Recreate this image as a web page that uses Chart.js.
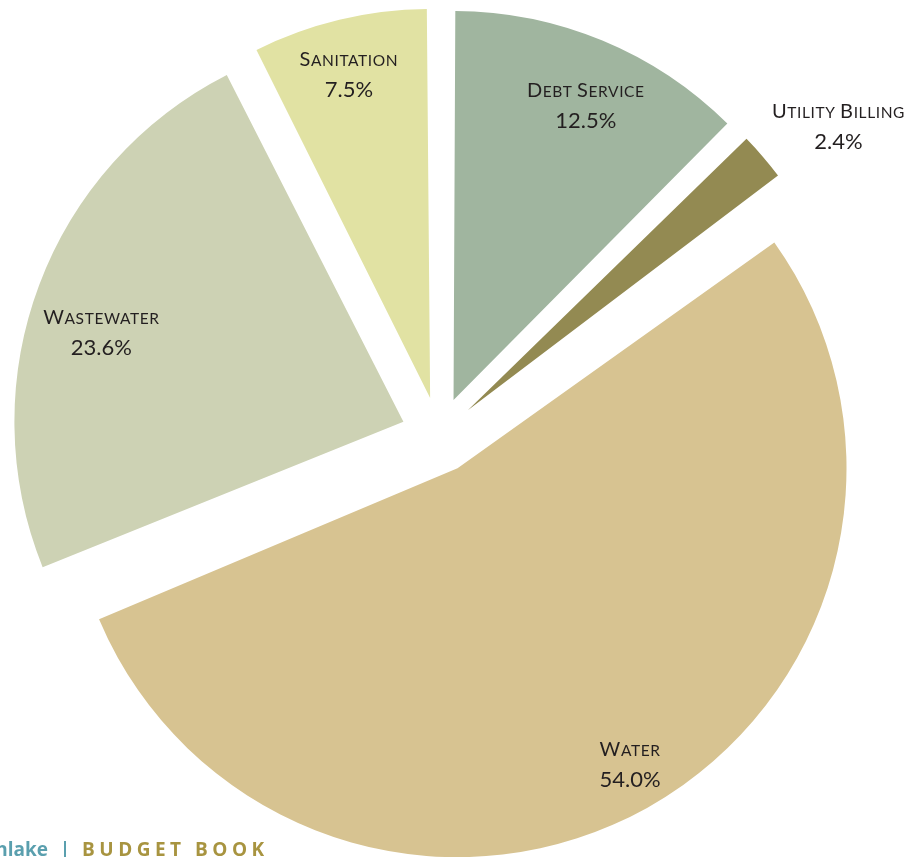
<!DOCTYPE html>
<html>
<head>
<meta charset="utf-8">
<script src="https://cdn.jsdelivr.net/npm/chart.js@4/dist/chart.umd.min.js"></script>
<style>
  html, body { margin: 0; padding: 0; background: #fff; }
  #wrap { width: 909px; height: 857px; }
</style>
</head>
<body>
<div id="wrap"><canvas id="budgetPie" width="909" height="857"></canvas></div>
<script>
var categories = ['Debt Service', 'Utility Billing', 'Water', 'Wastewater', 'Sanitation'];
var shares = [12.5, 2.4, 54.0, 23.6, 7.5];
var shareLabels = ['12.5%', '2.4%', '54.0%', '23.6%', '7.5%'];

var sliceColors = ['#a0b59f', '#938a52', '#d7c391', '#cdd2b4', '#e1e2a3'];
var PIE_RADIUS = 389;
var GAP = 38; // how far every slice is pulled out from the centre
// label placement: fraction of radius along the slice middle, plus a small nudge in degrees
var labelRadius = [0.83, 1.2, 0.88, 0.81, 0.86];
var labelNudge = [1.5, 3, -1, -3.5, -0.5];

function drawSmallCaps(ctx, text, cx, y, big, small) {
    var pieces = [];
    text.split(' ').forEach(function (w, i) {
        if (i > 0) pieces.push({ t: ' ', s: small });
        pieces.push({ t: w.charAt(0).toUpperCase(), s: big });
        if (w.length > 1) pieces.push({ t: w.slice(1).toUpperCase(), s: small });
    });
    ctx.letterSpacing = '0.6px';
    var total = 0;
    pieces.forEach(function (p) {
        ctx.font = p.s + 'px Lato';
        p.w = ctx.measureText(p.t).width;
        total += p.w;
    });
    var x = cx - total / 2;
    ctx.textAlign = 'left';
    pieces.forEach(function (p) {
        ctx.font = p.s + 'px Lato';
        ctx.fillText(p.t, x, y);
        x += p.w;
    });
    ctx.letterSpacing = '0px';
}

var sliceLabels = {
    id: 'sliceLabels',
    beforeDatasetsDraw: function (chart) {
        // Chart.js grows small slices by part of their offset; undo that so all radii match
        chart.getDatasetMeta(0).data.forEach(function (arc) {
            var circ = Math.min(Math.PI, arc.endAngle - arc.startAngle);
            arc.outerRadius = PIE_RADIUS - GAP * (1 - Math.sin(circ));
        });
    },
    afterDatasetsDraw: function (chart) {
        var ctx = chart.ctx;
        var meta = chart.getDatasetMeta(0);
        ctx.save();
        ctx.fillStyle = '#231f20';
        ctx.textBaseline = 'alphabetic';
        meta.data.forEach(function (arc, i) {
            var mid = (arc.startAngle + arc.endAngle) / 2 + labelNudge[i] * Math.PI / 180;
            var dist = GAP + labelRadius[i] * PIE_RADIUS;
            var lx = arc.x + Math.cos(mid) * dist;
            var ly = arc.y + Math.sin(mid) * dist;
            drawSmallCaps(ctx, categories[i], lx, ly - 8, 20, 15.5);
            ctx.font = '22px Lato';
            ctx.textAlign = 'center';
            ctx.fillText(shareLabels[i], lx, ly + 23);
        });
        ctx.restore();
    },
    afterDraw: function (chart) {
        // page footer
        var ctx = chart.ctx;
        ctx.save();
        ctx.textBaseline = 'alphabetic';
        ctx.font = 'bold 19px "Open Sans"';
        ctx.fillStyle = '#5a9fae';
        ctx.textAlign = 'right';
        ctx.fillText('Southlake', 48, 856);
        ctx.textAlign = 'center';
        ctx.fillText('|', 65, 856);
        ctx.textAlign = 'left';
        ctx.fillStyle = '#a89440';
        ctx.letterSpacing = '4.5px';
        ctx.fillText('BUDGET BOOK', 82, 856);
        ctx.restore();
    }
};

new Chart(document.getElementById('budgetPie').getContext('2d'), {
    type: 'pie',
    data: {
        labels: categories,
        datasets: [{
            data: shares,
            backgroundColor: sliceColors,
            borderWidth: 0,
            offset: GAP * 4, // v4 arcs move by offset / 4
            radius: PIE_RADIUS,
            clip: false
        }]
    },
    options: {
        responsive: false,
        animation: false,
        layout: { padding: { left: 0, right: 31, top: 13, bottom: 0 } },
        plugins: {
            legend: { display: false },
            tooltip: { enabled: false }
        }
    },
    plugins: [sliceLabels]
});
</script>
</body>
</html>
